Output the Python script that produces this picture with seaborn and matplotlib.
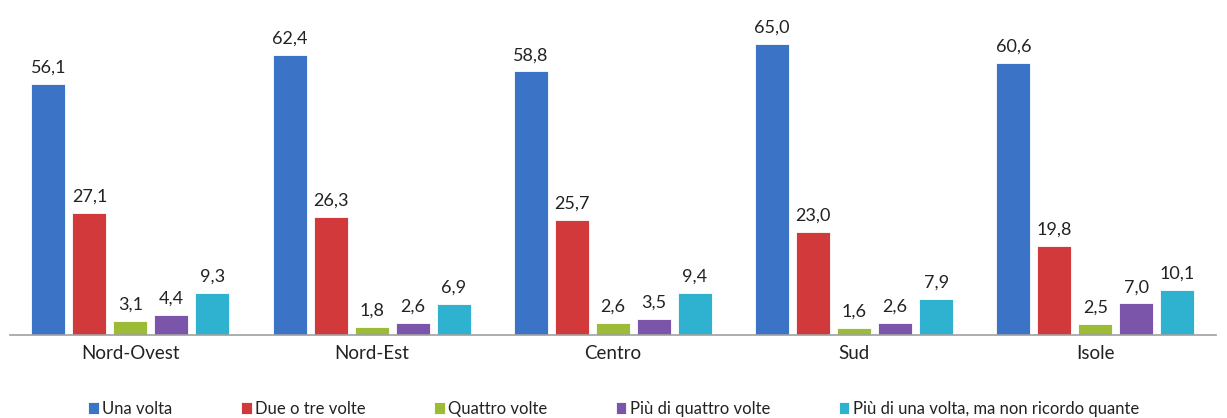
import matplotlib.pyplot as plt
import pandas as pd
import seaborn as sns

# data
regions = ['Nord-Ovest', 'Nord-Est', 'Centro', 'Sud', 'Isole']
series = ['Una volta', 'Due o tre volte', 'Quattro volte',
          'Più di quattro volte', 'Più di una volta, ma non ricordo quante']
una_volta = [56.1, 62.4, 58.8, 65.0, 60.6]
due_tre = [27.1, 26.3, 25.7, 23.0, 19.8]
quattro = [3.1, 1.8, 2.6, 1.6, 2.5]
piu_quattro = [4.4, 2.6, 3.5, 2.6, 7.0]
non_ricordo = [9.3, 6.9, 9.4, 7.9, 10.1]
colors = ['#3b73c6', '#d1393b', '#9cbc38', '#7b55a9', '#2eb2cf']

df = pd.DataFrame({'Una volta': una_volta, 'Due o tre volte': due_tre,
                   'Quattro volte': quattro, 'Più di quattro volte': piu_quattro,
                   'Più di una volta, ma non ricordo quante': non_ricordo},
                  index=regions)
df = df.reset_index().melt(id_vars='index', var_name='serie', value_name='valore')
df = df.rename(columns={'index': 'area'})

sns.set_style('white')
plt.rcParams['font.family'] = ['Lato', 'DejaVu Sans']

fig = plt.figure(figsize=(12.27, 4.18), dpi=100)
ax = fig.add_axes([0.008, 0.199, 0.983, 0.75])
sns.barplot(data=df, x='area', y='valore', hue='serie', order=regions,
            hue_order=series, palette=colors, width=0.85, gap=0.17,
            edgecolor='#ffffff', linewidth=0.6, saturation=1, ax=ax)

for cont in ax.containers:
    labels = [f'{b.get_height():.1f}'.replace('.', ',') for b in cont]
    ax.bar_label(cont, labels=labels, padding=6, fontsize=13, color='#222222')

ax.set_ylim(0, 70)
ax.set_xlim(-0.5, 4.5)
ax.set_xlabel('')
ax.set_ylabel('')
ax.set_yticks([])
for s in ['top', 'right', 'left']:
    ax.spines[s].set_visible(False)
ax.spines['bottom'].set_color('#a0a0a0')
ax.spines['bottom'].set_linewidth(1.2)
ax.tick_params(axis='x', length=0, labelsize=13.5, pad=7, labelcolor='#222222')

handles, labs = ax.get_legend_handles_labels()
ax.legend(handles, labs, loc='center', bbox_to_anchor=(0.5, 0.022),
          bbox_transform=fig.transFigure, ncol=5, frameon=False,
          fontsize=12, handlelength=0.65, handleheight=0.65, handletextpad=0.2,
          columnspacing=4.1, labelcolor='#222222')

fig.savefig('out.png', dpi=100)
